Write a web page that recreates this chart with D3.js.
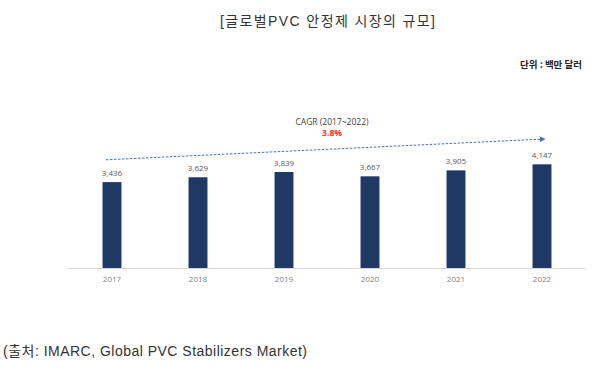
<!DOCTYPE html>
<html><head><meta charset="utf-8">
<script src="https://cdn.jsdelivr.net/npm/d3@7"></script>
<style>body{margin:0;background:#fff}svg{display:block}</style>
</head><body>
<script>
const years = ["2017","2018","2019","2020","2021","2022"];
const values = [3436, 3629, 3839, 3667, 3905, 4147];
const valueLabels = ["3,436","3,629","3,839","3,667","3,905","4,147"];
const titleText = "[글로벌PVC 안정제 시장의 규모]";
const unitText = "단위 : 백만 달러";
const cagrLabel = "CAGR (2017~2022)";
const cagrValue = "3.8%";
const sourceText = "(출처: IMARC, Global PVC Stabilizers Market)";

const W = 600, H = 369;
const svg = d3.select("body").append("svg").attr("width", W).attr("height", H);

const x = d3.scaleBand().domain(years).range([69, 585]).paddingInner(0.78).paddingOuter(0.39);
const y = d3.scaleLinear().domain([0, 4000]).range([268, 168]);

// title
svg.append("text").attr("x", 220).attr("y", 26)
  .attr("font-family", "'Liberation Sans', 'Noto Sans CJK KR', sans-serif").attr("font-size", 14)
  .attr("textLength", 215).attr("lengthAdjust", "spacing")
  .attr("fill", "#333").text(titleText);

svg.append("text").attr("x", 582).attr("y", 68).attr("text-anchor", "end")
  .attr("font-family", "'Noto Sans CJK KR', sans-serif").attr("font-size", 9.5)
  .attr("font-weight", "bold").attr("fill", "#222").text(unitText);

// axis
const axis = svg.append("g").attr("transform", "translate(0,268)")
  .call(d3.axisBottom(x).tickSize(0).tickPadding(8));
axis.select(".domain").attr("stroke", "#d9d9d9").attr("stroke-width", 1)
  .attr("d", "M68,0.5H586");
axis.selectAll("text").attr("font-family", "'Open Sans', sans-serif")
  .attr("font-size", 8).attr("fill", "#7f7f7f");

// bars
svg.selectAll("rect.bar").data(values).enter().append("rect")
  .attr("class", "bar")
  .attr("x", (d, i) => x(years[i])).attr("width", x.bandwidth())
  .attr("y", d => y(d)).attr("height", d => y(0) - y(d))
  .attr("fill", "#1f3864");

svg.selectAll("text.val").data(values).enter().append("text")
  .attr("x", (d, i) => x(years[i]) + x.bandwidth() / 2)
  .attr("y", d => y(d) - 6).attr("text-anchor", "middle")
  .attr("font-family", "'Open Sans', sans-serif").attr("font-size", 8)
  .attr("fill", "#595959").text((d, i) => valueLabels[i]);

// CAGR arrow
const defs = svg.append("defs");
defs.append("marker").attr("id", "ah").attr("viewBox", "0 0 10 10")
  .attr("refX", 9).attr("refY", 5).attr("markerWidth", 6).attr("markerHeight", 6)
  .attr("orient", "auto").attr("markerUnits", "userSpaceOnUse")
  .append("path").attr("d", "M0,0L10,5L0,10z").attr("fill", "#4472c4");
const x0 = x(years[0]) + x.bandwidth() / 2 - 6;
const x1 = x(years[5]) + x.bandwidth() / 2 + 3;
svg.append("line").attr("x1", x0).attr("y1", 159.8).attr("x2", x1).attr("y2", 139)
  .attr("stroke", "#4472c4").attr("stroke-width", 1).attr("stroke-dasharray", "2.5,1.5")
  .attr("marker-end", "url(#ah)");

svg.append("text").attr("x", 332).attr("y", 124.5).attr("text-anchor", "middle")
  .attr("font-family", "'Open Sans', sans-serif").attr("font-size", 8.5)
  .attr("fill", "#404040").text(cagrLabel);
svg.append("text").attr("x", 332).attr("y", 135.5).attr("text-anchor", "middle")
  .attr("font-family", "'Open Sans', sans-serif").attr("font-size", 8.5)
  .attr("font-weight", "bold").attr("fill", "#ff2a2a").text(cagrValue);

svg.append("text").attr("x", 3).attr("y", 356)
  .attr("font-family", "'Liberation Sans', 'Noto Sans CJK KR', sans-serif").attr("font-size", 14)
  .attr("textLength", 304).attr("lengthAdjust", "spacing")
  .attr("fill", "#333").text(sourceText);
</script>
</body></html>
